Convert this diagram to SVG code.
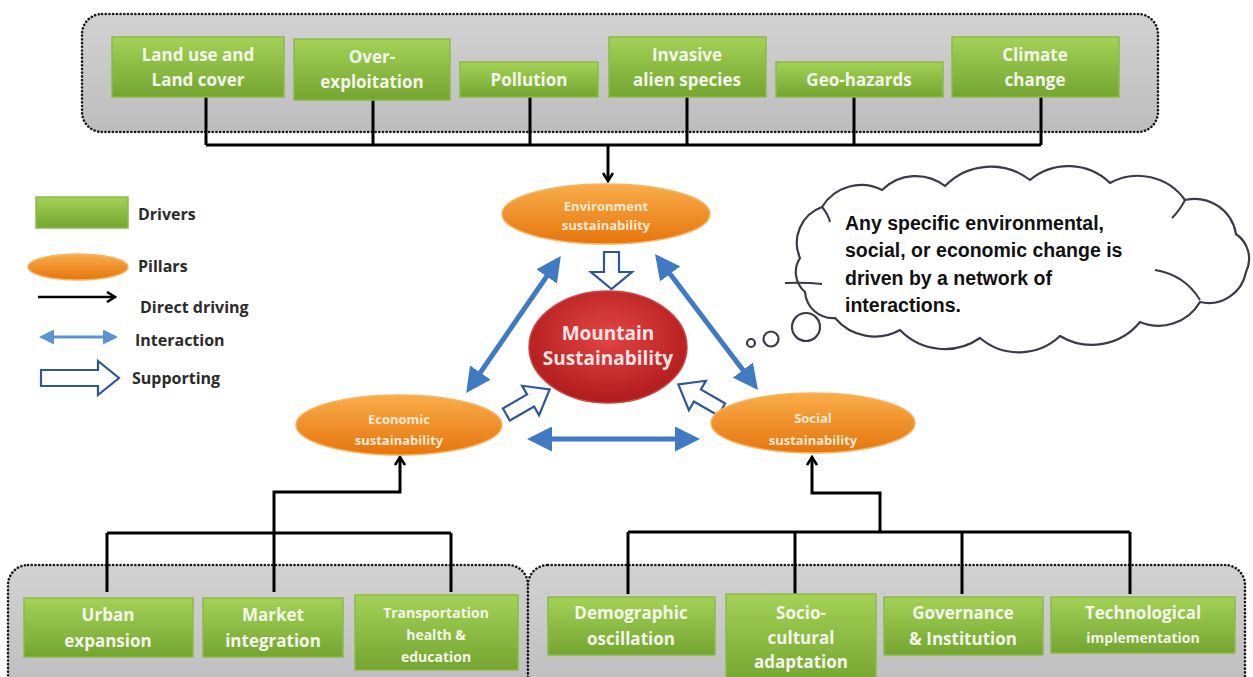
<svg xmlns="http://www.w3.org/2000/svg" width="1253" height="677" viewBox="0 0 1253 677">
<defs>
<linearGradient id="gGreen" x1="0" y1="0" x2="0" y2="1"><stop offset="0" stop-color="#a4d257"/><stop offset="1" stop-color="#74a531"/></linearGradient>
<linearGradient id="gOrange" x1="0" y1="0" x2="0" y2="1"><stop offset="0" stop-color="#f9ad4a"/><stop offset="1" stop-color="#e6750c"/></linearGradient>
<radialGradient id="gRed" cx="0.5" cy="0.4" r="0.6"><stop offset="0" stop-color="#e24545"/><stop offset="1" stop-color="#b11b1b"/></radialGradient>
<linearGradient id="gGray" x1="0" y1="0" x2="0" y2="1"><stop offset="0" stop-color="#d2d2d2"/><stop offset="1" stop-color="#bdbdbd"/></linearGradient>
<marker id="blk" viewBox="0 0 12 12" refX="10" refY="6" markerWidth="12" markerHeight="12" markerUnits="userSpaceOnUse" orient="auto"><path d="M2,1 L10,6 L2,11" fill="none" stroke="#000" stroke-width="2.6"/></marker>
<marker id="blu" viewBox="0 0 10 10" refX="8" refY="5" markerWidth="5" markerHeight="5" orient="auto-start-reverse"><path d="M0,0 L10,5 L0,10 Z" fill="#3f7ac3"/></marker>
<marker id="bluS" viewBox="0 0 10 10" refX="8" refY="5" markerWidth="5" markerHeight="5" orient="auto-start-reverse"><path d="M0,0 L10,5 L0,10 Z" fill="#5b93d3"/></marker>
<path id="hollow" d="M-25,-7 L3,-7 L3,-17 L25,0 L3,17 L3,7 L-25,7 Z"/>
</defs>
<style>
.cont{fill:url(#gGray);stroke:#1a1a1a;stroke-width:2.6;stroke-dasharray:0.1 3.6;stroke-linecap:round}
.drv{fill:url(#gGreen);stroke:#8cbb45;stroke-width:1.5}
.dt{font-family:"Open Sans","Liberation Sans",sans-serif;font-weight:700;font-size:17px;fill:#f3f7ea;text-anchor:middle}
.dts{font-size:14px}
.pil{fill:url(#gOrange);stroke:#f4b565;stroke-width:1.5}
.pt{font-family:"Open Sans","Liberation Sans",sans-serif;font-weight:700;font-size:13px;fill:#fde9d4;text-anchor:middle}
.mt{font-family:"Open Sans","Liberation Sans",sans-serif;font-weight:700;font-size:19px;fill:#f6e3e3;text-anchor:middle}
.lt{font-family:"Open Sans","Liberation Sans",sans-serif;font-weight:700;font-size:16px;fill:#2b2b2b}
.ln{fill:none;stroke:#000;stroke-width:3}
.ia{fill:none;stroke:#3f7ac3;stroke-width:5}
.sup{fill:#fff;stroke:#2d5797;stroke-width:2.2;stroke-linejoin:miter}
.ct{font-family:"Liberation Sans",Arial,sans-serif;font-weight:700;font-size:19.5px;fill:#111}
.cl{fill:#fff;stroke:#3a3a48;stroke-width:2.2}
</style>
<rect width="1253" height="677" fill="#fff"/>

<!-- containers -->
<g id="top-drivers-group"><rect class="cont" x="82" y="14" width="1076" height="118" rx="20"/></g>
<g id="economic-drivers-group"><rect class="cont" x="8" y="565" width="520" height="130" rx="20"/></g>
<g id="social-drivers-group"><rect class="cont" x="528" y="565" width="717" height="130" rx="20"/></g>

<!-- connectors -->
<g id="connectors">
<path class="ln" d="M206,97 V145 M373,100 V145 M530,97 V145 M687,97 V145 M854,97 V145 M1041,97 V145 M206,145 H1041"/>
<path class="ln" d="M608,145 V181" marker-end="url(#blk)"/>
<path class="ln" d="M107,592 V533 M274,592 V533 M451,592 V533 M107,533 H451"/>
<path class="ln" d="M274,533 V492 H400 V457" marker-end="url(#blk)"/>
<path class="ln" d="M628,594 V532 M795,594 V532 M962,594 V532 M1130,594 V532 M628,532 H1130"/>
<path class="ln" d="M880,532 V493 H812 V457" marker-end="url(#blk)"/>
<line class="ia" x1="558" y1="260" x2="469" y2="389" marker-start="url(#blu)" marker-end="url(#blu)"/>
<line class="ia" x1="658" y1="258" x2="755" y2="386" marker-start="url(#blu)" marker-end="url(#blu)"/>
<line class="ia" x1="532" y1="439" x2="695" y2="439" marker-start="url(#blu)" marker-end="url(#blu)"/>
<path class="sup" d="M604,252 H619 V272 H632 L611.5,289 L591,272 H604 Z"/>
<use href="#hollow" class="sup" transform="translate(528,402) rotate(-30)"/>
<use href="#hollow" class="sup" transform="translate(700,397) rotate(210)"/>
</g>

<!-- top drivers -->
<g id="land-use"><rect class="drv" x="112" y="37" width="172" height="60"/><text class="dt" x="198" y="61">Land use and</text><text class="dt" x="198" y="86">Land cover</text></g>
<g id="over-exploitation"><rect class="drv" x="294" y="39" width="156" height="61"/><text class="dt" x="372" y="63">Over-</text><text class="dt" x="372" y="88">exploitation</text></g>
<g id="pollution"><rect class="drv" x="460" y="62" width="138" height="35"/><text class="dt" x="529" y="86">Pollution</text></g>
<g id="invasive"><rect class="drv" x="609" y="37" width="157" height="60"/><text class="dt" x="687" y="61">Invasive</text><text class="dt" x="687" y="86">alien species</text></g>
<g id="geo-hazards"><rect class="drv" x="776" y="62" width="167" height="35"/><text class="dt" x="859" y="86">Geo-hazards</text></g>
<g id="climate"><rect class="drv" x="952" y="37" width="167" height="60"/><text class="dt" x="1035" y="61">Climate</text><text class="dt" x="1035" y="86">change</text></g>

<!-- economic drivers -->
<g id="urban"><rect class="drv" x="24" y="598" width="169" height="59"/><text class="dt" x="108" y="621">Urban</text><text class="dt" x="108" y="647">expansion</text></g>
<g id="market"><rect class="drv" x="203" y="598" width="140" height="59"/><text class="dt" x="273" y="621">Market</text><text class="dt" x="273" y="647">integration</text></g>
<g id="transport"><rect class="drv" x="355" y="595" width="163" height="75"/><text class="dt dts" x="436" y="618">Transportation</text><text class="dt dts" x="436" y="640">health  &amp;</text><text class="dt dts" x="436" y="662">education</text></g>

<!-- social drivers -->
<g id="demographic"><rect class="drv" x="548" y="597" width="167" height="58"/><text class="dt" x="631" y="619">Demographic</text><text class="dt" x="631" y="645">oscillation</text></g>
<g id="socio-cultural"><rect class="drv" x="726" y="594" width="150" height="90"/><text class="dt" x="801" y="619">Socio-</text><text class="dt" x="801" y="644">cultural</text><text class="dt" x="801" y="668">adaptation</text></g>
<g id="governance"><rect class="drv" x="884" y="597" width="159" height="58"/><text class="dt" x="963" y="619">Governance</text><text class="dt" x="963" y="645">&amp; Institution</text></g>
<g id="technological"><rect class="drv" x="1051" y="597" width="184" height="56"/><text class="dt" x="1143" y="619">Technological</text><text class="dt dts" x="1143" y="643">implementation</text></g>

<!-- pillars -->
<g id="environment"><ellipse class="pil" cx="606" cy="214" rx="104" ry="30"/><text class="pt" x="606" y="211">Environment</text><text class="pt" x="606" y="230">sustainability</text></g>
<g id="economic"><ellipse class="pil" cx="399" cy="425" rx="103" ry="30"/><text class="pt" x="399" y="424">Economic</text><text class="pt" x="399" y="445">sustainability</text></g>
<g id="social"><ellipse class="pil" cx="813" cy="423" rx="102" ry="30"/><text class="pt" x="813" y="423">Social</text><text class="pt" x="813" y="445">sustainability</text></g>
<g id="mountain"><ellipse cx="608" cy="347" rx="79" ry="56" fill="url(#gRed)" stroke="#c94848" stroke-width="1.5"/><text class="mt" x="608" y="340">Mountain</text><text class="mt" x="608" y="365">Sustainability</text></g>

<!-- legend -->
<g id="legend">
<rect class="drv" x="36" y="197" width="92" height="31"/>
<text class="lt" x="138" y="220">Drivers</text>
<ellipse class="pil" cx="78" cy="267" rx="50" ry="13"/>
<text class="lt" x="138" y="272">Pillars</text>
<line x1="38" y1="297" x2="115" y2="297" stroke="#000" stroke-width="2.5" marker-end="url(#blk)"/>
<text class="lt" x="140" y="313">Direct driving</text>
<line x1="42" y1="337" x2="115" y2="337" stroke="#5b93d3" stroke-width="3" marker-start="url(#bluS)" marker-end="url(#bluS)"/>
<text class="lt" x="135" y="346">Interaction</text>
<path class="sup" d="M41,370 H98 V361 L119,378 L98,395 V386 H41 Z"/>
<text class="lt" x="132" y="384">Supporting</text>
</g>

<!-- thought cloud -->
<g id="thought-cloud">
<path class="cl" d="M800,258 A38,38 0 0 1 822,207 A46,46 0 0 1 882,190 A48,48 0 0 1 945,186 A64,64 0 0 1 1030,180 A60,60 0 0 1 1110,183 A58,58 0 0 1 1185,200 A42,42 0 0 1 1236,234 A30,30 0 0 1 1246,272 A38,38 0 0 1 1200,302 A48,48 0 0 1 1140,322 A62,62 0 0 1 1060,336 A60,60 0 0 1 980,338 A62,62 0 0 1 900,330 A52,52 0 0 1 835,318 A28,28 0 0 1 805,292 A26,26 0 0 1 800,258 Z"/>
<path fill="none" stroke="#3a3a48" stroke-width="2" d="M785,283 Q805,282 822,284 M1155,270 Q1185,275 1200,300 M822,207 Q828,214 830,222 M1185,200 Q1180,210 1172,218"/>
<circle class="cl" cx="806" cy="327" r="14" stroke-width="2"/>
<circle class="cl" cx="771" cy="339" r="7.5" stroke-width="2"/>
<circle class="cl" cx="751" cy="343" r="4" stroke-width="2"/>
<text class="ct" x="845" y="230">Any specific environmental,</text>
<text class="ct" x="845" y="257">social, or economic change is</text>
<text class="ct" x="845" y="285">driven by a network of</text>
<text class="ct" x="845" y="312">interactions.</text>
</g>
</svg>
